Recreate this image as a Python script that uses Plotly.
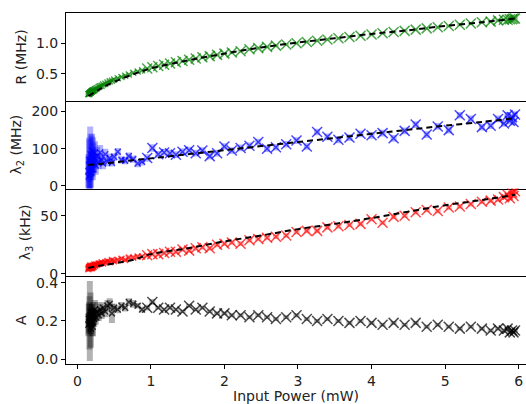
import plotly.graph_objects as go
from plotly.subplots import make_subplots

# ---------------- data ----------------
power = [0.15, 0.155, 0.16, 0.165, 0.17, 0.175, 0.18, 0.185, 0.19, 0.195, 0.20, 0.205, 0.21,
         0.215, 0.22, 0.23, 0.24, 0.25, 0.27, 0.29, 0.31,
         0.33, 0.35, 0.38, 0.41, 0.44, 0.47, 0.50, 0.55, 0.60, 0.65, 0.70, 0.76, 0.82, 0.88,
         0.95, 1.02, 1.10, 1.18, 1.26, 1.34, 1.43, 1.52, 1.61, 1.70, 1.80, 1.90, 2.00, 2.10,
         2.22, 2.34, 2.46, 2.58, 2.70, 2.84, 2.98, 3.12, 3.26, 3.40, 3.55, 3.70, 3.85, 4.00,
         4.15, 4.30, 4.45, 4.60, 4.75, 4.90, 5.05, 5.20, 5.35, 5.50, 5.62, 5.72, 5.80, 5.85,
         5.88, 5.91, 5.93, 5.95]

R_mhz = [0.17, 0.175, 0.18, 0.185, 0.19, 0.195, 0.20, 0.205, 0.21, 0.215, 0.22, 0.225, 0.23,
         0.23, 0.23, 0.24, 0.25, 0.26, 0.27, 0.29, 0.30,
         0.31, 0.33, 0.34, 0.36, 0.38, 0.39, 0.41, 0.43, 0.45, 0.47, 0.49, 0.52, 0.54, 0.56,
         0.59, 0.61, 0.63, 0.65, 0.67, 0.69, 0.71, 0.73, 0.75, 0.77, 0.79, 0.81, 0.83, 0.85,
         0.87, 0.90, 0.92, 0.94, 0.96, 0.98, 1.00, 1.02, 1.04, 1.06, 1.08, 1.10, 1.12, 1.14,
         1.16, 1.18, 1.20, 1.22, 1.24, 1.26, 1.28, 1.30, 1.32, 1.34, 1.35, 1.37, 1.38, 1.38,
         1.39, 1.39, 1.40, 1.40]
R_err = [0.02] * 81

lam2_mhz = [40, 25, 70, 55, 30, 65, 85, 35, 50, 80, 95, 60, 45,
            90, 75, 60, 90, 55, 80, 65, 90,
            70, 60, 85, 65, 75, 62, 78, 92, 70, 68, 80, 72, 60, 65,
            75, 102, 85, 90, 88, 84, 92, 96, 88, 95, 80, 88, 106, 95,
            102, 108, 118, 100, 104, 112, 122, 106, 145, 132, 124, 130, 140, 136,
            142, 128, 148, 165, 138, 160, 150, 190, 180, 158, 162, 180, 168, 190,
            175, 185, 172, 192]
lam2_err = [45, 50, 60, 70, 40, 95, 55, 40, 35, 55, 45, 35, 30,
            40, 40, 25, 30, 25, 25, 20, 20,
            15, 15, 15, 12, 12, 10, 10, 10, 10, 10, 10, 10, 10, 10,
            10, 10, 9, 9, 9, 9, 9, 9, 9, 9, 9, 9, 9, 9,
            9, 9, 9, 9, 9, 9, 9, 9, 9, 9, 9, 9, 9, 9,
            9, 9, 9, 9, 9, 9, 9, 9, 9, 9, 9, 9, 9, 9,
            9, 9, 9, 9]

lam3_khz = [4, 5, 6, 6, 5, 7, 7, 5, 6, 6, 5, 7, 7,
            6, 6, 8, 7, 8, 8, 9, 9,
            10, 9, 10, 11, 10, 12, 11, 12, 13, 12, 14, 14, 15, 15,
            16, 17, 17, 18, 19, 19, 21, 20, 22, 23, 22, 25, 26, 27,
            26, 29, 30, 31, 32, 33, 36, 37, 37, 40, 41, 42, 43, 47,
            44, 49, 50, 53, 55, 54, 57, 58, 60, 62, 63, 64, 66, 68,
            65, 70, 67, 71]
lam3_err = [2] * 81

A_val = [0.18, 0.21, 0.22, 0.19, 0.20, 0.23, 0.25, 0.16, 0.20, 0.24, 0.23, 0.19, 0.17,
         0.22, 0.24, 0.21, 0.26, 0.22, 0.25, 0.23, 0.26,
         0.24, 0.27, 0.25, 0.28, 0.29, 0.24, 0.27, 0.26, 0.28, 0.27, 0.30, 0.29, 0.28, 0.26,
         0.27, 0.30, 0.27, 0.26, 0.27, 0.26, 0.25, 0.28, 0.26, 0.27, 0.25, 0.24, 0.24, 0.23,
         0.23, 0.22, 0.23, 0.22, 0.21, 0.22, 0.23, 0.21, 0.20, 0.21, 0.20, 0.19, 0.20, 0.19,
         0.18, 0.19, 0.18, 0.19, 0.17, 0.18, 0.17, 0.16, 0.17, 0.16, 0.15, 0.16, 0.15, 0.16,
         0.14, 0.15, 0.14, 0.15]
A_err = [0.06, 0.08, 0.08, 0.14, 0.21, 0.06, 0.10, 0.10, 0.07, 0.05, 0.06, 0.07, 0.05,
         0.05, 0.06, 0.04, 0.05, 0.04, 0.05, 0.03, 0.03,
         0.03, 0.03, 0.03, 0.03, 0.03, 0.05, 0.02, 0.02, 0.02, 0.02, 0.02, 0.02, 0.015, 0.015,
         0.015, 0.015, 0.01, 0.01, 0.01, 0.01, 0.01, 0.01, 0.01, 0.01, 0.01, 0.01, 0.01, 0.01,
         0.01, 0.01, 0.01, 0.01, 0.01, 0.01, 0.01, 0.01, 0.01, 0.01, 0.01, 0.01, 0.01, 0.01,
         0.01, 0.01, 0.01, 0.01, 0.01, 0.01, 0.01, 0.01, 0.01, 0.01, 0.01, 0.01, 0.01, 0.01,
         0.01, 0.01, 0.01, 0.01]

fit_power = [0.15, 0.3, 0.5, 0.75, 1.0, 1.5, 2.0, 2.5, 3.0, 3.5, 4.0, 4.5, 5.0, 5.5, 5.95]
R_fit = [0.14, 0.25, 0.37, 0.49, 0.59, 0.72, 0.83, 0.93, 1.01, 1.08, 1.15, 1.21, 1.28, 1.34, 1.40]
lam2_fit = [56, 59, 63, 69, 74, 85, 96, 107, 118, 129, 140, 151, 162, 172, 182]
lam3_fit = [5, 7, 9, 12, 17, 22, 28, 33, 38.5, 43, 48, 53.5, 59, 63.5, 68]

# ---------------- figure ----------------
fig = make_subplots(rows=4, cols=1, shared_xaxes=True, vertical_spacing=0)

def msize(xs):
    return [6 if v < 0.9 else 10 for v in xs]

series = [
    (R_mhz, R_err, "rgb(0,128,0)", "rgba(0,128,0,0.3)", R_fit),
    (lam2_mhz, lam2_err, "rgb(0,0,255)", "rgba(0,0,255,0.3)", lam2_fit),
    (lam3_khz, lam3_err, "rgb(255,0,0)", "rgba(255,0,0,0.3)", lam3_fit),
    (A_val, A_err, "rgb(0,0,0)", "rgba(0,0,0,0.3)", None),
]

for i, (yv, ev, col, ecol, fit) in enumerate(series, start=1):
    fig.add_trace(go.Scatter(
        x=power, y=yv, mode="markers",
        error_y=dict(type="data", array=ev, visible=True, color=ecol, thickness=6, width=0),
        marker=dict(symbol="x-thin", size=msize(power), color=col,
                    line=dict(color=col, width=1.5)),
        showlegend=False), row=i, col=1)
    if fit is not None:
        fig.add_trace(go.Scatter(
            x=fit_power, y=fit, mode="lines", line=dict(color="black", width=2, dash="6px,4px"),
            line_shape="spline", showlegend=False), row=i, col=1)

font = dict(family="DejaVu Sans", size=14, color="#222")
yranges = [[0.065, 1.49], [-7, 229], [-2, 73.4], [-0.026, 0.435]]
ytickvals = [[0.5, 1.0], [0, 100, 200], [0, 50], [0.0, 0.2, 0.4]]
yticktext = [["0.5", "1.0"], ["0", "100", "200"], ["0", "50"], ["0.0", "0.2", "0.4"]]
ytitles = ["R (MHz)", "λ<sub>2</sub> (MHz)", "λ<sub>3</sub> (kHz)", "A"]
domains = [[0.75, 1.0], [0.5, 0.75], [0.25, 0.5], [0.0, 0.25]]

for i in range(4):
    fig.update_yaxes(range=yranges[i], tickvals=ytickvals[i], ticktext=yticktext[i],
                     title=dict(text=ytitles[i], font=font, standoff=6),
                     showline=True, linecolor="black", linewidth=1, mirror=False,
                     ticks="outside", ticklen=4, tickcolor="black", showgrid=False,
                     zeroline=False, tickfont=font, domain=domains[i], row=i + 1, col=1)
    fig.update_xaxes(range=[-0.154, 6.1], showline=True, linecolor="black", linewidth=1.2,
                     mirror=(i == 0), showgrid=False, zeroline=False,
                     ticks="outside" if i == 3 else "", ticklen=4, tickcolor="black",
                     tickvals=[0, 1, 2, 3, 4, 5, 6], showticklabels=(i == 3),
                     tickfont=font, row=i + 1, col=1)

fig.update_xaxes(title=dict(text="Input Power (mW)", font=font, standoff=2), row=4, col=1)

fig.update_layout(width=526, height=404, margin=dict(l=66, r=0, t=13, b=40),
                  plot_bgcolor="white", paper_bgcolor="white", font=font)

fig.write_html("out.html")
